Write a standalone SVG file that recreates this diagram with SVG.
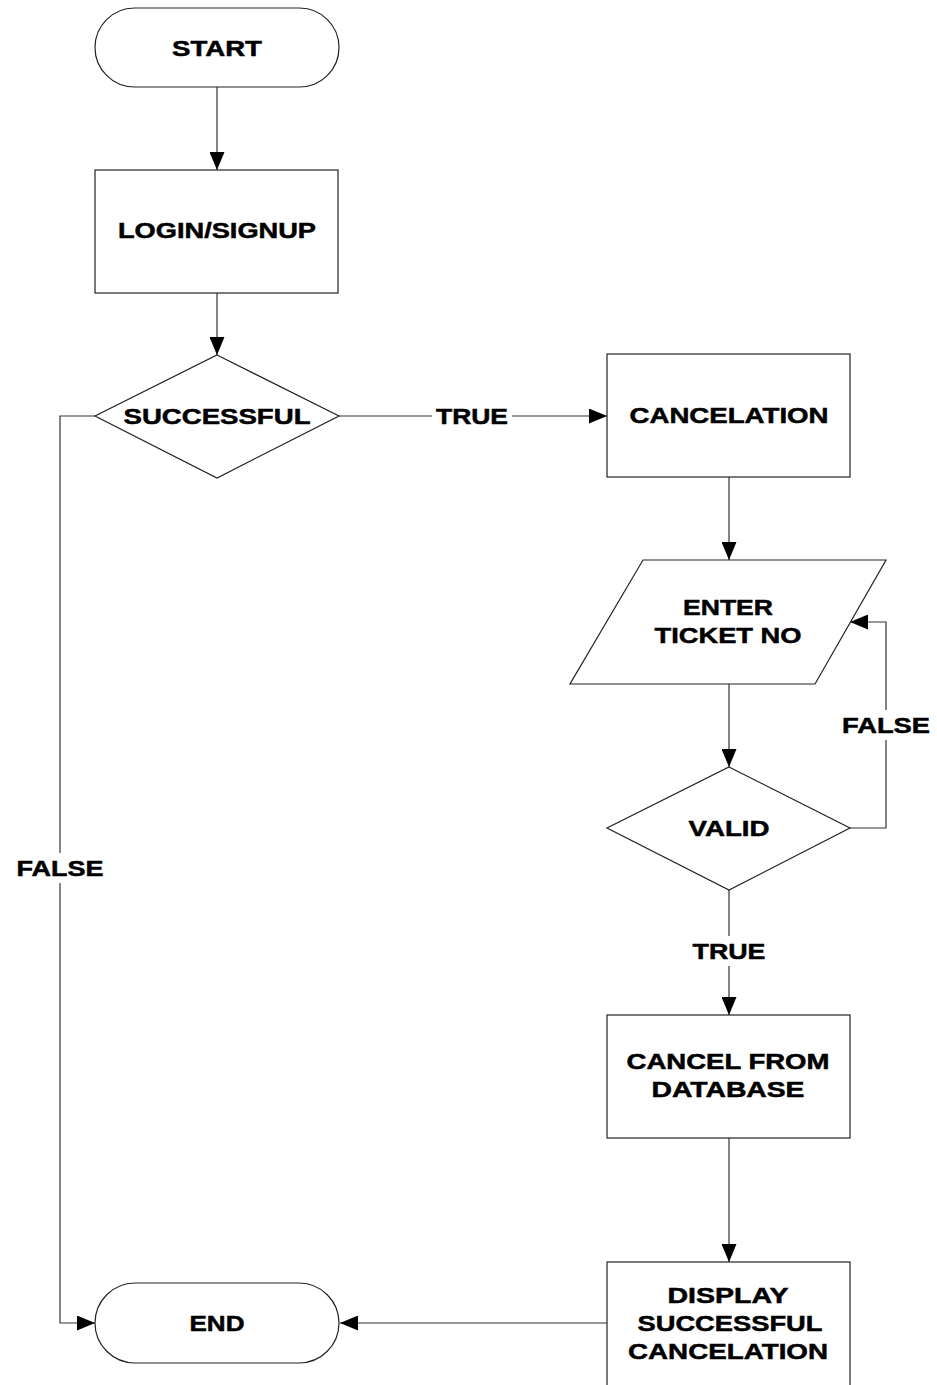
<svg xmlns="http://www.w3.org/2000/svg" width="937" height="1385" viewBox="0 0 937 1385">
  <style>
    .shape { fill: #ffffff; stroke: #222222; stroke-width: 1.2; }
    .wire { fill: none; stroke: #333333; stroke-width: 1.2; }
    .lbl { font-family: "Liberation Sans", Arial, sans-serif; font-weight: bold; font-size: 22px; fill: #000000; stroke: #000000; stroke-width: 0.5; text-anchor: middle; }
    .mask { fill: #ffffff; stroke: none; }
  </style>
  <defs>
    <marker id="arrow" viewBox="0 0 18 15" refX="18" refY="7.5" markerWidth="18" markerHeight="15" markerUnits="userSpaceOnUse" orient="auto">
      <path d="M0,0 L18,7.5 L0,15 Z" fill="#000000"/>
    </marker>
  </defs>
  <rect width="937" height="1385" fill="#ffffff"/>

  <!-- connectors -->
  <g id="connectors">
    <path class="wire" d="M217,87 V170" marker-end="url(#arrow)"/>
    <path class="wire" d="M217,293 V355" marker-end="url(#arrow)"/>
    <path class="wire" d="M339,416 H607" marker-end="url(#arrow)"/>
    <path class="wire" d="M95,416 H60 V1323 H95" marker-end="url(#arrow)"/>
    <path class="wire" d="M729,477 V560" marker-end="url(#arrow)"/>
    <path class="wire" d="M729,684 V767" marker-end="url(#arrow)"/>
    <path class="wire" d="M850,828 H886 V622 H850" marker-end="url(#arrow)"/>
    <path class="wire" d="M729,890 V1015" marker-end="url(#arrow)"/>
    <path class="wire" d="M729,1138 V1262" marker-end="url(#arrow)"/>
    <path class="wire" d="M607,1323 H340" marker-end="url(#arrow)"/>

    <rect class="mask" x="432" y="402" width="80" height="28"/>
    <text class="lbl" x="472" y="424" textLength="72" lengthAdjust="spacingAndGlyphs">TRUE</text>
    <rect class="mask" x="12" y="853" width="95" height="30"/>
    <text class="lbl" x="60" y="876" textLength="87" lengthAdjust="spacingAndGlyphs">FALSE</text>
    <rect class="mask" x="838" y="710" width="96" height="30"/>
    <text class="lbl" x="886" y="733" textLength="88" lengthAdjust="spacingAndGlyphs">FALSE</text>
    <rect class="mask" x="688" y="936" width="82" height="30"/>
    <text class="lbl" x="729" y="959" textLength="73" lengthAdjust="spacingAndGlyphs">TRUE</text>
  </g>

  <g id="start">
    <rect class="shape" x="95" y="8" width="244" height="79" rx="39.5" ry="39.5"/>
    <text class="lbl" x="217" y="56" textLength="90" lengthAdjust="spacingAndGlyphs">START</text>
  </g>

  <g id="login">
    <rect class="shape" x="95" y="170" width="243" height="123"/>
    <text class="lbl" x="217" y="238" textLength="198" lengthAdjust="spacingAndGlyphs">LOGIN/SIGNUP</text>
  </g>

  <g id="successful">
    <polygon class="shape" points="217,355 339,416 217,478 95,416"/>
    <text class="lbl" x="217" y="424" textLength="187" lengthAdjust="spacingAndGlyphs">SUCCESSFUL</text>
  </g>

  <g id="cancelation">
    <rect class="shape" x="607" y="354" width="243" height="123"/>
    <text class="lbl" x="729" y="423" textLength="199" lengthAdjust="spacingAndGlyphs">CANCELATION</text>
  </g>

  <g id="enter-ticket">
    <polygon class="shape" points="643,560 886,560 815,684 570,684"/>
    <text class="lbl" x="728" y="615" textLength="90" lengthAdjust="spacingAndGlyphs">ENTER</text>
    <text class="lbl" x="728" y="643" textLength="147" lengthAdjust="spacingAndGlyphs">TICKET NO</text>
  </g>

  <g id="valid">
    <polygon class="shape" points="729,767 850,828 729,890 607,828"/>
    <text class="lbl" x="729" y="836" textLength="81" lengthAdjust="spacingAndGlyphs">VALID</text>
  </g>

  <g id="cancel-db">
    <rect class="shape" x="607" y="1015" width="243" height="123"/>
    <text class="lbl" x="728" y="1069" textLength="203" lengthAdjust="spacingAndGlyphs">CANCEL FROM</text>
    <text class="lbl" x="728" y="1097" textLength="153" lengthAdjust="spacingAndGlyphs">DATABASE</text>
  </g>

  <g id="display">
    <rect class="shape" x="607" y="1262" width="243" height="135"/>
    <text class="lbl" x="728" y="1303" textLength="121" lengthAdjust="spacingAndGlyphs">DISPLAY</text>
    <text class="lbl" x="730" y="1331" textLength="185" lengthAdjust="spacingAndGlyphs">SUCCESSFUL</text>
    <text class="lbl" x="728" y="1359" textLength="200" lengthAdjust="spacingAndGlyphs">CANCELATION</text>
  </g>

  <g id="end">
    <rect class="shape" x="95" y="1283" width="244" height="80" rx="40" ry="40"/>
    <text class="lbl" x="217" y="1331" textLength="55" lengthAdjust="spacingAndGlyphs">END</text>
  </g>
</svg>
